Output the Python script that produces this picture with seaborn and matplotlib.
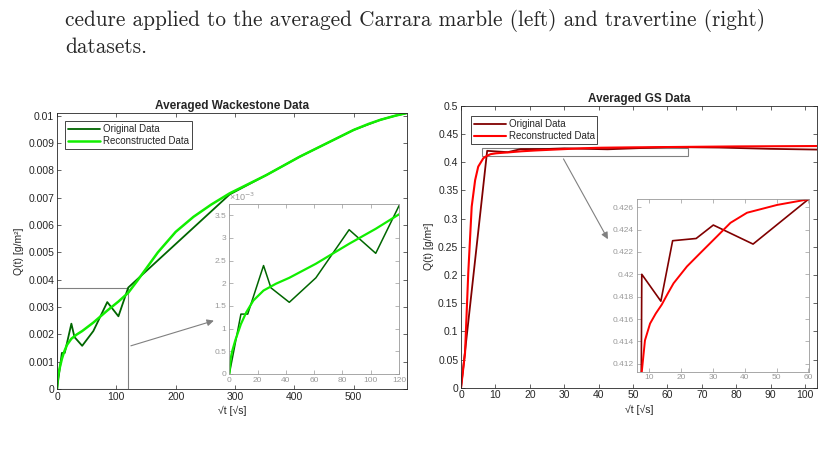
import numpy as np
import pandas as pd
import seaborn as sns
import matplotlib.pyplot as plt
from matplotlib.patches import Rectangle
from matplotlib.ticker import FuncFormatter, MultipleLocator

# --- Averaged Wackestone data (sqrt t, Q) ---
wack_t_orig = [0, 8.2, 13, 24.2, 29.4, 42.4, 61.2, 84.7, 103.5, 120, 291, 353, 409, 500, 545,
               570, 590]
wack_q_orig = [0, 1.32e-3, 1.32e-3, 2.39e-3, 1.90e-3, 1.58e-3, 2.12e-3, 3.18e-3, 2.66e-3, 3.71e-3,
               7.12e-3, 7.83e-3, 8.50e-3, 9.48e-3, 9.85e-3, 1.0e-2, 1.01e-2]
wack_t_rec = [0, 1, 2, 4.2, 8.2, 12, 17, 24.2, 33, 42.4, 61.2, 84.7, 103.5, 120, 135, 150, 170,
              200, 230, 260, 291, 353, 409, 500, 525, 545, 570, 590]
wack_q_rec = [0, 0.35e-3, 0.5e-3, 0.74e-3, 1.1e-3, 1.36e-3, 1.62e-3, 1.84e-3, 1.99e-3, 2.12e-3,
              2.43e-3, 2.87e-3, 3.2e-3, 3.52e-3, 3.95e-3, 4.4e-3, 5.0e-3, 5.75e-3, 6.3e-3,
              6.75e-3, 7.16e-3, 7.83e-3, 8.5e-3, 9.48e-3, 9.7e-3, 9.85e-3, 1.0e-2, 1.01e-2]

# --- Averaged GS data ---
gs_t_orig = [0, 7.6, 13.6, 17.3, 24.7, 30.1, 42.6, 60, 75, 90, 103.6]
gs_q_orig = [0, 0.4200, 0.4176, 0.4230, 0.4232, 0.4244, 0.4227, 0.4267, 0.4258, 0.4235, 0.4222]
gs_t_rec = [0, 1.16, 2.1, 3.1, 4.1, 5.0, 6.5, 7.6, 8.6, 10.2, 12.0, 13.9, 15.8, 17.6, 21.8, 26.0,
            31.3, 35.5, 40.7, 50.2, 60, 80, 103.6]
gs_q_rec = [0, 0.061, 0.203, 0.321, 0.368, 0.392, 0.407, 0.4113, 0.4141, 0.4156, 0.4165, 0.4173,
            0.4183, 0.4192, 0.4207, 0.4219, 0.4234, 0.4246, 0.4255, 0.4262, 0.4267, 0.4278,
            0.4285]

c_dgreen = '#006600'
c_green = '#11ee00'
c_dred = '#800000'
c_red = '#ff0000'
axis_col = '#262626'
inset_col = '#999999'

sns.set_style('ticks')
plt.rcParams['font.family'] = ['Liberation Sans', 'DejaVu Sans']

fmt_g = FuncFormatter(lambda v, p: '%g' % round(v, 6))
fmt_e3 = FuncFormatter(lambda v, p: '%g' % round(v * 1e3, 6))


def style_axes(ax, col, size, lw=0.6):
    for s in ax.spines.values():
        s.set_visible(True)
        s.set_color(col)
        s.set_linewidth(lw)
    ax.tick_params(which='both', direction='in', top=True, right=True, length=3,
                   width=0.5, colors=col, labelsize=size, pad=2)
    ax.set_xlabel('')
    ax.set_ylabel('')


def draw(ax, t, q, color, lw, label=None):
    sns.lineplot(x=t, y=q, ax=ax, color=color, linewidth=lw, label=label,
                 estimator=None, sort=False)


fig = plt.figure(figsize=(8.24, 4.5), dpi=100)

# page text
fig.text(65 / 824, 1 - 20.5 / 450,
         'cedure applied to the averaged Carrara marble (left) and travertine (right)',
         family='cmr10', fontsize=15.3, va='center', ha='left')
fig.text(65 / 824, 1 - 47.5 / 450, 'datasets.', family='cmr10', fontsize=15.3,
         va='center', ha='left')

# ---------------- left panel ----------------
ax1 = fig.add_axes([0.0692, 0.1356, 0.4248, 0.6133])
draw(ax1, wack_t_orig, wack_q_orig, c_dgreen, 1.3, 'Original Data')
draw(ax1, wack_t_rec, wack_q_rec, c_green, 1.8, 'Reconstructed Data')
style_axes(ax1, axis_col, 7.5)
ax1.set_xlim(0, 590)
ax1.set_ylim(0, 0.0101)
ax1.xaxis.set_major_locator(MultipleLocator(100))
ax1.yaxis.set_major_locator(MultipleLocator(0.001))
ax1.yaxis.set_major_formatter(fmt_g)
ax1.set_title('Averaged Wackestone Data', fontsize=8.5, fontweight='bold', pad=3)
ax1.set_xlabel('√t [√s]', fontsize=7.5, labelpad=3)
ax1.set_ylabel('Q(t) [g/m²]', fontsize=7.5, labelpad=3)
leg = ax1.legend(loc='upper left', bbox_to_anchor=(0.024, 0.971), fontsize=7,
                 fancybox=False, edgecolor=axis_col, framealpha=1, handlelength=3.3,
                 handletextpad=0.3, labelspacing=0.25, borderpad=0.3, borderaxespad=0)
leg.get_frame().set_linewidth(0.6)
ax1.add_patch(Rectangle((0, 0), 120, 0.0037, fill=False, edgecolor='#808080', lw=0.8, zorder=1))
ax1.annotate('', xy=(268.8, 0.00253), xytext=(120, 0.00155),
             arrowprops=dict(arrowstyle='-|>', color='#808080', lw=0.8, mutation_scale=10))

ins1 = fig.add_axes([0.2783, 0.1689, 0.206, 0.3771])
draw(ins1, wack_t_orig[:10], wack_q_orig[:10], c_dgreen, 1.1)
draw(ins1, wack_t_rec[:14], wack_q_rec[:14], c_green, 1.6)
style_axes(ins1, inset_col, 6)
ins1.set_xlim(0, 120)
ins1.set_ylim(0, 0.00374)
ins1.xaxis.set_major_locator(MultipleLocator(20))
ins1.yaxis.set_major_locator(MultipleLocator(0.0005))
ins1.yaxis.set_major_formatter(fmt_e3)
ins1.text(0, 1.005, '×10$^{-3}$', transform=ins1.transAxes, fontsize=6.5,
          color=inset_col, va='bottom', ha='left')

# ---------------- right panel ----------------
ax2 = fig.add_axes([0.5595, 0.1384, 0.4324, 0.6267])
draw(ax2, gs_t_orig, gs_q_orig, c_dred, 1.3, 'Original Data')
draw(ax2, gs_t_rec, gs_q_rec, c_red, 1.5, 'Reconstructed Data')
style_axes(ax2, axis_col, 7.5)
ax2.set_xlim(0, 103.6)
ax2.set_ylim(0, 0.5)
ax2.xaxis.set_major_locator(MultipleLocator(10))
ax2.yaxis.set_major_locator(MultipleLocator(0.05))
ax2.yaxis.set_major_formatter(fmt_g)
ax2.set_title('Averaged GS Data', fontsize=8.5, fontweight='bold', pad=3)
ax2.set_xlabel('√t [√s]', fontsize=7.5, labelpad=3)
ax2.set_ylabel('Q(t) [g/m²]', fontsize=7.5, labelpad=3)
leg = ax2.legend(loc='upper left', bbox_to_anchor=(0.027, 0.9635), fontsize=7,
                 fancybox=False, edgecolor=axis_col, framealpha=1, handlelength=3.3,
                 handletextpad=0.3, labelspacing=0.25, borderpad=0.3, borderaxespad=0)
leg.get_frame().set_linewidth(0.6)
ax2.add_patch(Rectangle((6, 0.41), 60, 0.015, fill=False, edgecolor='#808080', lw=0.8, zorder=1))
ax2.annotate('', xy=(43.1, 0.259), xytext=(29.4, 0.41),
             arrowprops=dict(arrowstyle='-|>', color='#808080', lw=0.8, mutation_scale=10))

ins2 = fig.add_axes([0.7727, 0.174, 0.2091, 0.3831])
draw(ins2, gs_t_orig[:8], gs_q_orig[:8], c_dred, 1.2)
draw(ins2, gs_t_rec[6:21], gs_q_rec[6:21], c_red, 1.4)
style_axes(ins2, inset_col, 6)
ins2.set_xlim(6, 60.2)
ins2.set_ylim(0.4113, 0.4267)
ins2.xaxis.set_major_locator(MultipleLocator(10))
ins2.yaxis.set_major_locator(MultipleLocator(0.002))
ins2.yaxis.set_major_formatter(fmt_g)

fig.savefig('out.png', dpi=100)
